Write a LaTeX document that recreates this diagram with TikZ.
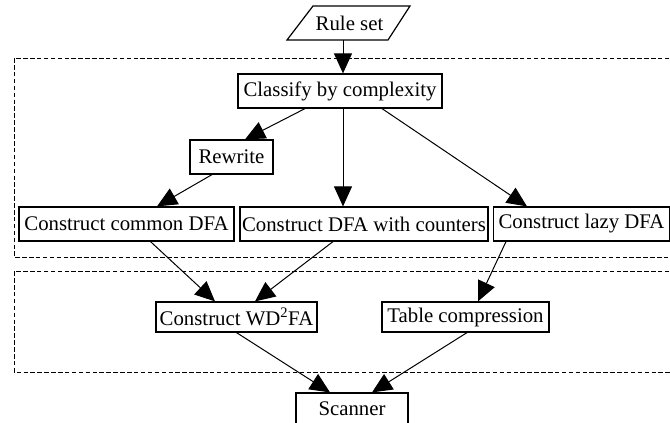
\documentclass[tikz,border=0pt]{standalone}
\usepackage{fontspec}
\setmainfont{Liberation Serif}
\usetikzlibrary{arrows.meta}
\begin{document}
\begin{tikzpicture}[x=1pt,y=-1pt,
  every node/.style={font=\fontsize{20.8}{24}\selectfont},
  box/.style={draw,line width=1.2pt,inner sep=0pt,minimum height=34pt},
  arr/.style={line width=1pt,-{Triangle[length=20pt,width=18pt]}},
  frame/.style={line width=1pt,dash pattern=on 4.5pt off 2.4pt}]
\useasboundingbox (0,0) rectangle (670,423);
% frames
\draw[frame] (690,58) -- (14,58) -- (14,257) -- (690,257);
\draw[frame] (690,271) -- (14,271) -- (14,372) -- (690,372);
% nodes
\node[inner sep=0pt,minimum height=34pt] (rule) at (349.5,23) {Rule set};
\draw[line width=1.2pt] (313,6) -- (410,6) -- (388,40) -- (287,40) -- cycle;
\node[box,minimum width=204pt] (cl) at (340,91) {Classify by complexity};
\node[box,minimum width=83pt] (rw) at (231.5,157) {Rewrite};
\node[box,minimum width=215pt] (cd) at (126.5,224) {Construct common DFA};
\node[box,minimum width=248pt] (dc) at (364,224) {Construct DFA with counters};
\node[box,minimum width=176pt] (ld) at (581.5,224) {Construct lazy DFA};
\node[box,minimum width=161pt,minimum height=30pt] (wd) at (236.5,317) {Construct WD\textsuperscript{2}FA};
\node[box,minimum width=167pt,minimum height=30pt] (tc) at (465.5,317) {Table compression};
\node[box,minimum width=112pt,minimum height=32pt] (sc) at (352,409) {Scanner};
% connectors
\draw[arr] ([xshift=-6.5pt]rule.south) -- ([xshift=3pt]cl.north);
\draw[arr] ([xshift=-35pt]cl.south) -- ([xshift=13.5pt]rw.north);
\draw[arr] ([xshift=3pt]cl.south) -- ([xshift=-21pt]dc.north);
\draw[arr] ([xshift=42pt]cl.south) -- ([xshift=-54.5pt]ld.north);
\draw[arr] ([xshift=-19.5pt]rw.south) -- ([xshift=30.5pt]cd.north);
\draw[arr] ([xshift=24pt]cd.south) -- ([xshift=-21.5pt]wd.north);
\draw[arr] ([xshift=-31pt]dc.south) -- ([xshift=18.5pt]wd.north);
\draw[arr] ([xshift=-75.5pt]ld.south) -- ([xshift=12.5pt]tc.north);
\draw[arr] (wd.south) -- ([xshift=-22pt]sc.north);
\draw[arr] ([xshift=1.5pt]tc.south) -- ([xshift=20pt]sc.north);
\end{tikzpicture}
\end{document}
